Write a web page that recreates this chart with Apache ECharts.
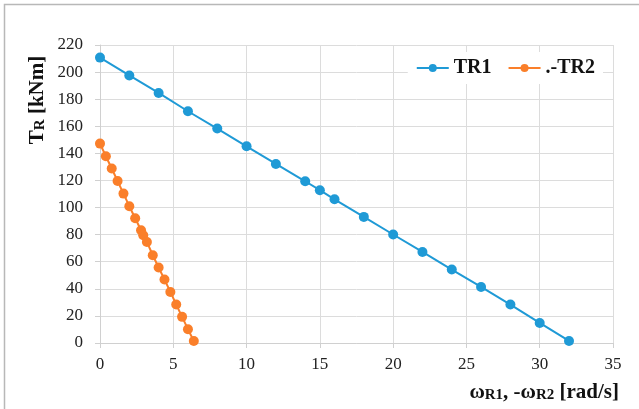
<!DOCTYPE html>
<html>
<head>
<meta charset="utf-8">
<style>html,body{margin:0;padding:0;background:#fff;}#c{width:639px;height:409px;}</style>
<script src="https://cdn.jsdelivr.net/npm/echarts@6/dist/echarts.min.js"></script>
</head>
<body>
<div id="c"></div>
<script>
// TR1 series: omega (rad/s) and torque (kNm)
var tr1X = [0, 2, 4, 6, 8, 10, 12, 14, 15, 16, 18, 20, 22, 24, 26, 28, 30, 32];
var tr1Y = [210.7, 197.5, 184.6, 171.1, 158.3, 145.2, 132.2, 119.4, 112.8, 106.1, 93.1, 80.1, 67.2, 54.2, 41.4, 28.4, 14.8, 1.5];
// .-TR2 series
var tr2X = [0, 0.4, 0.8, 1.2, 1.6, 2.0, 2.4, 2.8, 2.95, 3.2, 3.6, 4.0, 4.4, 4.8, 5.2, 5.6, 6.0, 6.4];
var tr2Y = [147.2, 137.9, 128.8, 119.6, 110.3, 101.0, 92.1, 83.2, 79.5, 74.6, 64.8, 55.7, 46.9, 37.7, 28.4, 19.3, 10.2, 1.5];
var seriesNames = ['TR1', '.-TR2'];

function pairs(xs, ys) { return xs.map(function (x, i) { return [x, ys[i]]; }); }

var serif = '"Liberation Serif", "DejaVu Serif", serif';
var chart = echarts.init(document.getElementById('c'), null, { renderer: 'canvas' });
chart.setOption({
  animation: false,
  backgroundColor: '#fff',
  color: ['#1f9ad6', '#fa7f2a'],
  grid: { left: 100, right: 26, top: 45, bottom: 66 },
  legend: {
    data: seriesNames,
    right: 36, top: 52,
    backgroundColor: '#fff',
    padding: [6, 8],
    itemWidth: 32, itemHeight: 10, itemGap: 16,
    textStyle: { fontFamily: serif, fontWeight: 'bold', fontSize: 20, color: '#111' }
  },
  xAxis: {
    type: 'value', min: 0, max: 35, interval: 5,
    axisLine: { show: true, lineStyle: { color: '#d0d0d0' } },
    axisTick: { show: true, length: 5, lineStyle: { color: '#d0d0d0' } },
    splitLine: { show: true, lineStyle: { color: '#dcdcdc' } },
    axisLabel: { fontFamily: serif, fontSize: 17, color: '#222', margin: 13 }
  },
  yAxis: {
    type: 'value', min: 0, max: 220, interval: 20,
    axisLine: { show: true, lineStyle: { color: '#d0d0d0' } },
    axisTick: { show: true, length: 5, lineStyle: { color: '#d0d0d0' } },
    splitLine: { show: true, lineStyle: { color: '#dcdcdc' } },
    axisLabel: { fontFamily: serif, fontSize: 17, color: '#222', margin: 17 }
  },
  series: [
    { name: seriesNames[0], type: 'line', data: pairs(tr1X, tr1Y), symbol: 'circle', symbolSize: 10,
      lineStyle: { width: 2 } },
    { name: seriesNames[1], type: 'line', data: pairs(tr2X, tr2Y), symbol: 'circle', symbolSize: 10,
      lineStyle: { width: 2 } }
  ],
  graphic: [
    { type: 'rect', shape: { x: 4.5, y: 4.5, width: 800, height: 600 }, silent: true, z: -1,
      style: { fill: 'none', stroke: '#b8b8b8', lineWidth: 1.5 } },
    { type: 'text', x: 38, y: 100, rotation: Math.PI / 2, silent: true,
      style: {
        text: '{a|T}{b|R}{a| [kNm]}', align: 'center', verticalAlign: 'middle',
        rich: {
          a: { fontFamily: serif, fontWeight: 'bold', fontSize: 21, fill: '#111' },
          b: { fontFamily: serif, fontWeight: 'bold', fontSize: 15, fill: '#111', padding: [5, 0, 0, 0] }
        }
      } },
    { type: 'text', right: 20, top: 382, silent: true,
      style: {
        text: '{a|ω}{b|R1}{a|, -ω}{b|R2}{a| [rad/s]}', align: 'right', verticalAlign: 'top',
        rich: {
          a: { fontFamily: serif, fontWeight: 'bold', fontSize: 21, fill: '#111' },
          b: { fontFamily: serif, fontWeight: 'bold', fontSize: 15, fill: '#111', padding: [5, 0, 0, 0] }
        }
      } }
  ]
});
</script>
</body>
</html>
